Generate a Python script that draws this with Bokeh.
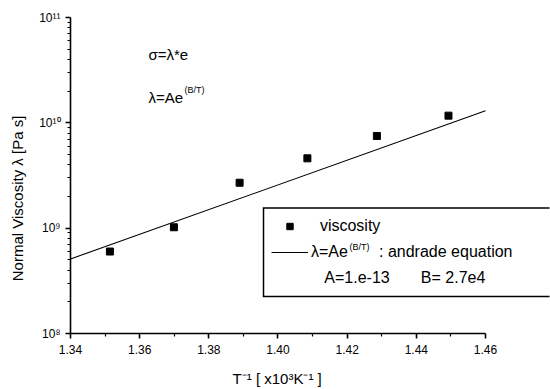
import math
from bokeh.plotting import figure
from bokeh.models import (Range1d, FixedTicker, Legend, LegendItem, Label,
                          PrintfTickFormatter)
from bokeh.embed import file_html
from bokeh.resources import INLINE

# ---- data ----
inv_T = [1.3514, 1.3699, 1.3889, 1.4085, 1.4286, 1.4493]      # T^-1 [x10^3 K^-1]
viscosity = [6.0e8, 1.02e9, 2.7e9, 4.6e9, 7.5e9, 1.17e10]      # Pa s
fit_x = [1.34, 1.46]
fit_y = [5.1e8, 1.3e10]
x_ticks = [1.34, 1.36, 1.38, 1.40, 1.42, 1.44, 1.46]
x_minor = [1.35, 1.37, 1.39, 1.41, 1.43, 1.45]
y_ticks = [1e8, 1e9, 1e10, 1e11]
y_tick_labels = ["10\u2078", "10\u2079", "10\u00b9\u2070", "10\u00b9\u00b9"]

FONT = "Liberation Sans"
NB = "\u00a0"

# ---- layout (pixels) ----
W, H = 550, 389
LEFT, TOP, BOTTOM = 70, 17, 55
X0, X1 = 1.34, 1.4788
Y0, Y1 = 1e8, 1e11
FRAME_W = W - LEFT
FRAME_H = H - TOP - BOTTOM
LEG_L, LEG_B, LEG_T = 193, 37, 126        # legend box, px from frame bottom-left


def px_to_x(px):
    return X0 + px / FRAME_W * (X1 - X0)


def px_to_y(py):
    lo, hi = math.log10(Y0), math.log10(Y1)
    return 10 ** (lo + py / FRAME_H * (hi - lo))


p = figure(width=W, height=H, output_backend="svg", toolbar_location=None,
           x_range=Range1d(X0, X1), y_range=Range1d(Y0, Y1),
           y_axis_type="log",
           min_border_left=LEFT, min_border_right=0, min_border_top=TOP,
           min_border_bottom=BOTTOM)
p.outline_line_color = None
p.xgrid.visible = False
p.ygrid.visible = False
p.background_fill_color = "white"
p.border_fill_color = "white"

sc = p.scatter(inv_T, viscosity, marker="square", size=7, color="black")
ln = p.line(fit_x, fit_y, line_color="black", line_width=1.1)
dummy = p.line([], [], line_alpha=0)

# legend frame: top, left and bottom sides (open at the right edge)
p.line([px_to_x(FRAME_W - 1), px_to_x(LEG_L), px_to_x(LEG_L), px_to_x(FRAME_W - 1)],
       [px_to_y(LEG_T), px_to_y(LEG_T), px_to_y(LEG_B), px_to_y(LEG_B)],
       line_color="black", line_width=1.5, line_join="miter")

# axes
minor_y = [m * d for d in y_ticks[:-1] for m in range(2, 10)]
p.yaxis.ticker = FixedTicker(ticks=y_ticks, minor_ticks=minor_y)
p.yaxis.major_label_overrides = dict(zip(y_ticks, y_tick_labels))
p.xaxis.ticker = FixedTicker(ticks=x_ticks, minor_ticks=x_minor)
p.xaxis.formatter = PrintfTickFormatter(format="%.2f")
p.xaxis.bounds = (1.34, 1.46)

for ax in (p.xaxis[0], p.yaxis[0]):
    ax.axis_line_width = 1.6
    ax.axis_line_color = "black"
    ax.major_tick_line_width = 1.6
    ax.minor_tick_line_width = 1.2
    ax.major_tick_line_color = "black"
    ax.minor_tick_line_color = "black"
    ax.major_tick_in = 0
    ax.major_tick_out = 5
    ax.minor_tick_in = 0
    ax.minor_tick_out = 3
    ax.major_label_text_font = FONT
    ax.major_label_text_font_size = "12px"
    ax.major_label_text_color = "black"
    ax.axis_label_text_font = FONT
    ax.axis_label_text_font_size = "15px"
    ax.axis_label_text_font_style = "normal"
    ax.axis_label_text_color = "black"

p.xaxis.major_label_standoff = 6
p.yaxis.major_label_standoff = 5
# trailing no-break spaces shift the centred titles to where the original has them
p.xaxis.axis_label = "T\u207b\u00b9 [ x10\u00b3K\u207b\u00b9 ]" + NB * 16
p.xaxis.axis_label_standoff = 13
p.yaxis.axis_label = "Normal Viscosity \u03bb [Pa s]" + NB * 11
p.yaxis.axis_label_standoff = 10

legend = Legend(items=[
    LegendItem(label=NB * 2 + "viscosity", renderers=[sc]),
    LegendItem(label="\u03bb=Ae" + NB * 6 + " : andrade equation", renderers=[ln]),
    LegendItem(label=NB * 3 + "A=1.e-13" + NB * 7 + "B= 2.7e4", renderers=[dummy]),
], location=(LEG_L, LEG_B))
legend.label_text_font = FONT
legend.label_text_font_size = "16px"
legend.label_text_color = "black"
legend.glyph_width = 37
legend.glyph_height = 16
legend.label_height = 20
legend.label_standoff = 3
legend.spacing = 6
legend.padding = 8
legend.margin = 0
legend.border_line_alpha = 0
legend.background_fill_alpha = 0
p.add_layout(legend)

# annotations
def note(x, y, text, size):
    p.add_layout(Label(x=x, y=y, x_units="screen", y_units="screen", text=text,
                       text_baseline="middle", text_font=FONT, text_font_size=size,
                       text_color="black", level="overlay"))

note(78, 279, "\u03c3=\u03bb*e", "15px")
note(78, 236, "\u03bb=Ae", "15px")
note(114, 244, "(B/T)", "9px")
note(279, 87, "(B/T)", "9px")

open("out.html", "w").write(file_html(p, INLINE))
